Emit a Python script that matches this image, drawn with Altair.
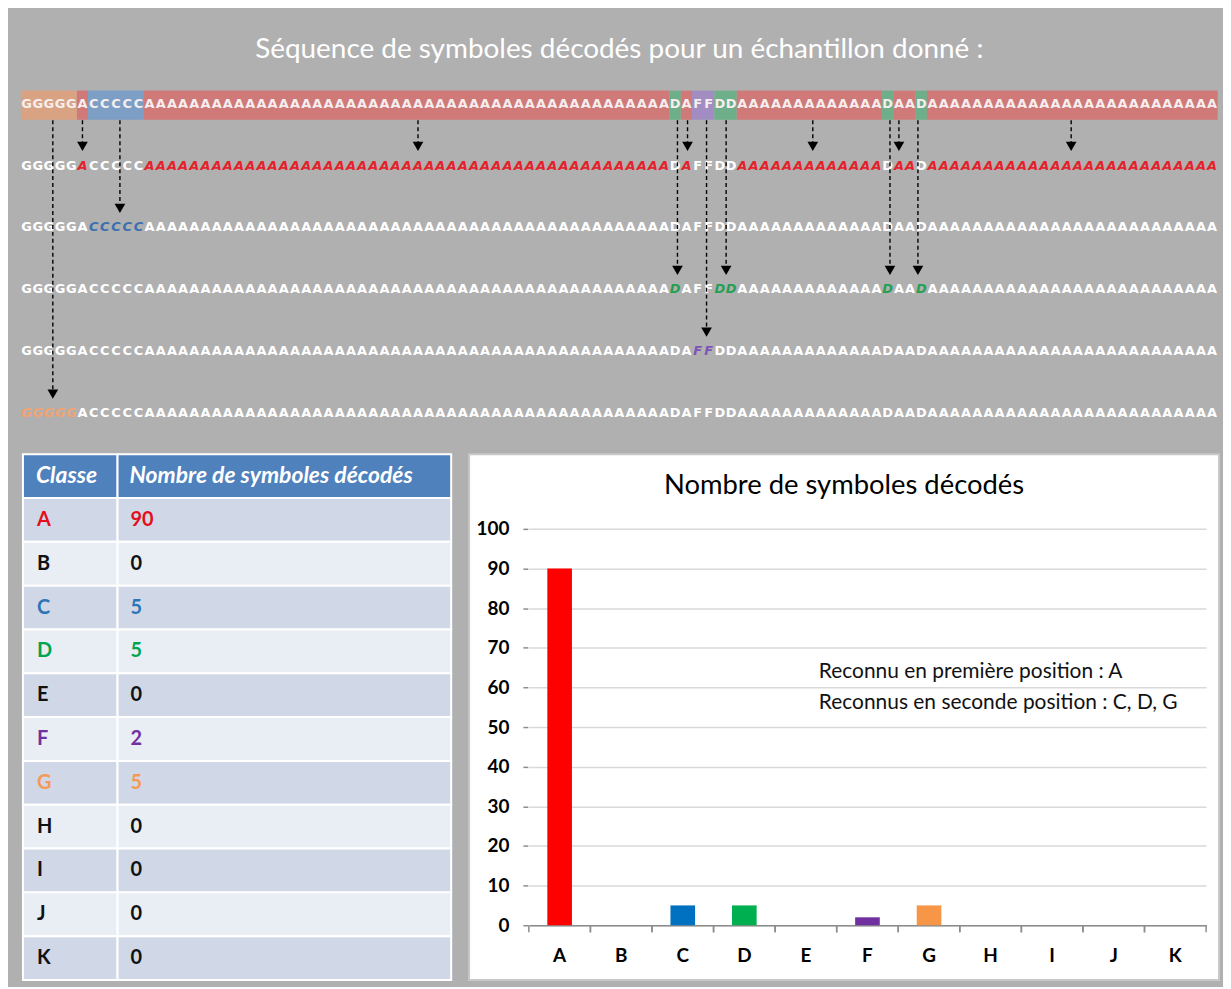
import altair as alt
import pandas as pd

# ---------------- data ----------------
RUN_LETTERS = ["G", "A", "C", "A", "D", "A", "F", "D", "A", "D", "A", "D", "A"]
RUN_LENGTHS = [5, 1, 5, 47, 1, 1, 2, 2, 13, 1, 2, 1, 26]
ROW_TARGETS = ["", "A", "C", "D", "F", "G"]          # row 0 = decoded sequence band
ARROW_POS = [2.85, 5.5, 8.85, 35.5, 58.7, 59.6, 61.3, 63.05, 70.8, 77.7, 78.5, 80.2, 93.9]
ARROW_TARGET = ["G", "A", "C", "A", "D", "A", "F", "D", "A", "D", "A", "D", "A"]
CLASSES = ["A", "B", "C", "D", "E", "F", "G", "H", "I", "J", "K"]
COUNTS = [90, 0, 5, 5, 0, 2, 5, 0, 0, 0, 0]
TITLE_TOP = "Séquence de symboles décodés pour un échantillon donné :"
TABLE_HEADERS = ["Classe", "Nombre de symboles décodés"]
CHART_TITLE = "Nombre de symboles décodés"
NOTE = ["Reconnu en première position : A", "Reconnus en seconde position : C, D, G"]

# ---------------- styles ----------------
BG = "#b0b0b0"
BAND_BG = {"G": "#d9a383", "A": "#cf7979", "C": "#7d9fc5", "D": "#6daf89", "F": "#a28dc3"}
ITALIC_COL = {"A": "#e5222b", "C": "#3b6fb0", "D": "#23a052", "F": "#7c55b8", "G": "#f0a374"}
TABLE_COL = {"A": "#e3101b", "C": "#2e75b6", "D": "#00a550", "F": "#7030a0", "G": "#f59a55"}
BAR_COL = {"A": "#ff0000", "C": "#0070c0", "D": "#00b050", "F": "#7030a0", "G": "#f79646"}

# layout (row units / char units of the top panel)
BAND_TOP, BAND_BOTTOM = -0.21, 0.26
ARROW_START = 0.27
TITLE_ROW, TITLE_COL = -0.86, 53.5

# ---------------- top panel ----------------
seq = "".join(l * n for l, n in zip(RUN_LETTERS, RUN_LENGTHS))
segs, pos = [], 0
for l, n in zip(RUN_LETTERS, RUN_LENGTHS):
    segs.append(dict(start=pos, end=pos + n, bg=BAND_BG[l], y0=BAND_TOP, y1=BAND_BOTTOM))
    pos += n
seg_df = pd.DataFrame(segs)

plain, ital = [], []
for r, tgt in enumerate(ROW_TARGETS):
    for i, ch in enumerate(seq):
        if r == 0:
            plain.append(dict(x=i + 0.5, r=r, ch=ch, col="#f6eeee"))
        elif ch == tgt:
            ital.append(dict(x=i + 0.5, r=r, ch=ch, col=ITALIC_COL[ch]))
        else:
            plain.append(dict(x=i + 0.5, r=r, ch=ch, col="#ffffff"))
plain_df = pd.DataFrame(plain)
ital_df = pd.DataFrame(ital)

row_of = {t: ROW_TARGETS.index(t) for t in ROW_TARGETS if t}
arr_df = pd.DataFrame({
    "x": ARROW_POS,
    "r0": [ARROW_START] * len(ARROW_POS),
    "r_end": [row_of[t] - 0.38 for t in ARROW_TARGET],
    "r_head": [row_of[t] - 0.31 for t in ARROW_TARGET],
})

X_TOP = alt.Scale(domain=[-1.0686, 107.12], nice=False, zero=False)
Y_TOP = alt.Scale(domain=[-1.4952, 5.6109], nice=False, zero=False, reverse=True)


def xq(f):
    return alt.X(f, type="quantitative", scale=X_TOP, axis=None)


def yq(f):
    return alt.Y(f, type="quantitative", scale=Y_TOP, axis=None)


seg_layer = alt.Chart(seg_df).mark_rect().encode(
    x=xq("start"), x2="end:Q", y=yq("y0"), y2="y1:Q",
    color=alt.Color("bg:N", scale=None),
)
plain_layer = alt.Chart(plain_df).mark_text(
    font="DejaVu Sans", fontSize=13, fontWeight="bold", baseline="middle", align="center"
).encode(x=xq("x"), y=yq("r"), text="ch:N", color=alt.Color("col:N", scale=None))
ital_layer = alt.Chart(ital_df).mark_text(
    font="DejaVu Sans", fontSize=13, fontWeight="bold", fontStyle="italic",
    baseline="middle", align="center"
).encode(x=xq("x"), y=yq("r"), text="ch:N", color=alt.Color("col:N", scale=None))
arrow_lines = alt.Chart(arr_df).mark_rule(color="black", strokeWidth=1.4, strokeDash=[4, 3]).encode(
    x=xq("x"), y=yq("r0"), y2="r_end:Q"
)
arrow_heads = alt.Chart(arr_df).mark_point(
    shape="triangle-down", filled=True, size=115, color="black", opacity=1
).encode(x=xq("x"), y=yq("r_head"))
top_title = alt.Chart(pd.DataFrame({"t": [TITLE_TOP], "x": [TITLE_COL], "y": [TITLE_ROW]})).mark_text(
    font="Lato", fontSize=28, color="white", align="center", baseline="middle"
).encode(x=xq("x"), y=yq("y"), text="t:N")
top = alt.layer(seg_layer, plain_layer, ital_layer, arrow_lines, arrow_heads, top_title).properties(
    width=1215, height=442, view=alt.ViewBackground(stroke="transparent")
)

# ---------------- table ----------------
ROWS = ["hdr"] + CLASSES
TAB_LEFT, TAB_DIV, TAB_RIGHT = 14, 109, 444
cells = []
for k, row in enumerate(ROWS):
    if row == "hdr":
        fill = "#4f81bd"
    else:
        fill = "#d0d8e8" if (k - 1) % 2 == 0 else "#e9edf4"
    cells.append(dict(row=row, x0=TAB_LEFT, x1=TAB_DIV, fill=fill))
    cells.append(dict(row=row, x0=TAB_DIV, x1=TAB_RIGHT, fill=fill))
cell_df = pd.DataFrame(cells)

hdr_df = pd.DataFrame({"row": ["hdr", "hdr"], "x": [TAB_LEFT + 13, TAB_DIV + 12], "t": TABLE_HEADERS})
body = []
for c, n in zip(CLASSES, COUNTS):
    col = TABLE_COL.get(c, "#111111")
    body.append(dict(row=c, x=TAB_LEFT + 14, t=c, col=col))
    body.append(dict(row=c, x=TAB_DIV + 13, t=str(n), col=col))
body_df = pd.DataFrame(body)

X_TAB = alt.Scale(domain=[0, 444], nice=False, zero=False)
Y_TAB = alt.Scale(domain=ROWS, paddingInner=0, paddingOuter=0)

cell_layer = alt.Chart(cell_df).mark_rect(stroke="white", strokeWidth=2).encode(
    x=alt.X("x0:Q", scale=X_TAB, axis=None), x2="x1:Q",
    y=alt.Y("row:N", scale=Y_TAB, axis=None),
    color=alt.Color("fill:N", scale=None),
)
hdr_layer = alt.Chart(hdr_df).mark_text(
    font="Lato", fontSize=23, fontWeight="bold", fontStyle="italic", color="white",
    align="left", baseline="middle"
).encode(x=alt.X("x:Q", scale=X_TAB, axis=None), y=alt.Y("row:N", scale=Y_TAB, axis=None), text="t:N")
body_layer = alt.Chart(body_df).mark_text(
    font="Lato", fontSize=20, fontWeight="bold", align="left", baseline="middle"
).encode(
    x=alt.X("x:Q", scale=X_TAB, axis=None), y=alt.Y("row:N", scale=Y_TAB, axis=None),
    text="t:N", color=alt.Color("col:N", scale=None),
)
table = alt.layer(cell_layer, hdr_layer, body_layer).properties(
    width=444, height=528, view=alt.ViewBackground(stroke="transparent")
)

# ---------------- bar chart ----------------
bdf = pd.DataFrame({"cls": CLASSES, "n": COUNTS})
tick_df = pd.DataFrame({"cls": CLASSES, "y0": [0.0] * len(CLASSES), "y1": [-1.8] * len(CLASSES)})
X_BAR = alt.Scale(domain=CLASSES, range=[60, 740], paddingInner=0, paddingOuter=0)
Y_BAR = alt.Scale(domain=[-13.82, 118.84], nice=False, zero=False)

bars = alt.Chart(bdf).mark_bar(width=alt.RelativeBandSize(0.4)).encode(
    x=alt.X("cls:N", scale=X_BAR, title=None, axis=alt.Axis(
        orient="bottom", offset=-55, ticks=False, labelPadding=21, labelAngle=0,
        labelFont="Lato", labelFontSize=19, labelFontWeight="bold", labelColor="black",
        domain=True, domainColor="#8c8c8c", domainWidth=1.5, grid=False)),
    y=alt.Y("n:Q", scale=Y_BAR, title=None, axis=alt.Axis(
        values=[0, 10, 20, 30, 40, 50, 60, 70, 80, 90, 100], offset=-59,
        tickSize=5, tickColor="#8c8c8c", tickWidth=1.5, labelPadding=14,
        labelFont="Lato", labelFontSize=19, labelFontWeight="bold", labelColor="black",
        grid=True, gridColor="#d9d9d9", gridWidth=1.5, domain=False)),
    color=alt.Color("cls:N", scale=alt.Scale(domain=CLASSES,
                    range=[BAR_COL.get(c, "#ffffff") for c in CLASSES]), legend=None),
)
ticks_start = alt.Chart(tick_df).mark_rule(color="#8c8c8c", strokeWidth=1.5).encode(
    x=alt.X("cls:N", bandPosition=0, title=None),
    y=alt.Y("y0:Q", title=None), y2="y1:Q",
)
ticks_end = alt.Chart(tick_df).mark_rule(color="#8c8c8c", strokeWidth=1.5).encode(
    x=alt.X("cls:N", bandPosition=1, title=None),
    y=alt.Y("y0:Q", title=None), y2="y1:Q",
)
note = alt.Chart(pd.DataFrame({"t": ["\n".join(NOTE)], "cls": ["E"], "y": [63.8]})).mark_text(
    font="Lato", fontSize=21, color="#111111", align="left", baseline="middle",
    lineBreak="\n", lineHeight=31
).encode(x=alt.X("cls:N", bandPosition=0.71, title=None), y=alt.Y("y:Q", title=None), text="t:N")
bar_title = alt.Chart(pd.DataFrame({"t": [CHART_TITLE], "cls": ["F"], "y": [110.8]})).mark_text(
    font="Lato", fontSize=27.5, color="black", align="center", baseline="middle"
).encode(x=alt.X("cls:N", bandPosition=0.12, title=None), y=alt.Y("y:Q", title=None), text="t:N")

bar_chart = alt.layer(bars, ticks_start, ticks_end, note, bar_title).properties(
    width=753, height=528,
    view=alt.ViewBackground(fill="white", stroke="#c8c8c8", strokeWidth=2),
)

chart = alt.vconcat(
    top, alt.hconcat(table, bar_chart, spacing=15), spacing=0
).properties(
    background=BG, padding={"left": 0, "top": 0, "right": 3, "bottom": 3}
).configure_view(stroke="transparent")

chart.save("out.html", embed_options={"renderer": "svg", "actions": False})
